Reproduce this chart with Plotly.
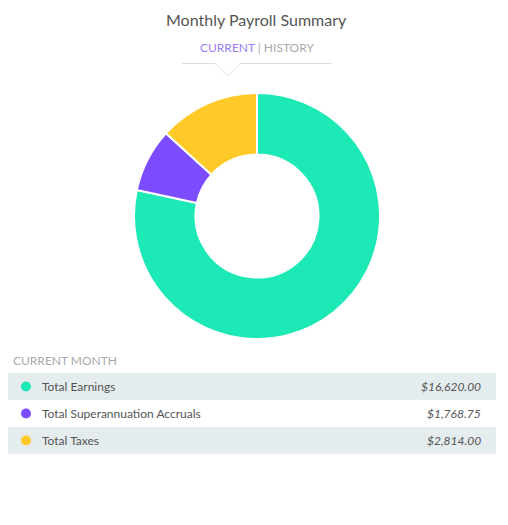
import plotly.graph_objects as go

categories = ["Total Earnings", "Total Superannuation Accruals", "Total Taxes"]
values = [16620.00, 1768.75, 2814.00]
colors = ["#1de9b6", "#7c4dff", "#ffca28"]

W, H = 508, 525
def px(x):
    return x / W
def py(y):
    return 1 - y / H

fig = go.Figure()
fig.add_trace(go.Pie(
    labels=categories, values=values, sort=False, direction="clockwise",
    rotation=0, hole=0.5, textinfo="none", showlegend=False,
    marker=dict(colors=colors, line=dict(color="white", width=2)),
    domain=dict(x=[px(134), px(380)], y=[py(339), py(93)]),
    hoverinfo="label+value",
))

font = "Lato, 'Open Sans', sans-serif"
annotations = []
shapes = []

annotations.append(dict(text="Monthly Payroll Summary", x=px(256), y=py(20), xref="paper", yref="paper",
                        showarrow=False, xanchor="center", yanchor="middle",
                        font=dict(family=font, size=16, color="#555555")))
annotations.append(dict(text="<span style='color:#9c7cf2'>CURRENT</span><span style='color:#aaaaaa'> | HISTORY</span>",
                        x=px(257), y=py(47), xref="paper", yref="paper",
                        showarrow=False, xanchor="center", yanchor="middle",
                        font=dict(family=font, size=12, color="#aaaaaa")))
shapes.append(dict(type="path", xref="paper", yref="paper",
                   path=f"M {px(182)} {py(63.5)} L {px(215)} {py(63.5)} L {px(227.5)} {py(76)} L {px(240)} {py(63.5)} L {px(332)} {py(63.5)}",
                   line=dict(color="#dddddd", width=1)))

annotations.append(dict(text="CURRENT MONTH", x=px(11), y=py(360), xref="paper", yref="paper",
                        showarrow=False, xanchor="left", yanchor="middle",
                        font=dict(family=font, size=12, color="#aaaaaa")))

row_top = 373
row_h = 27
for i, (lab, val, col) in enumerate(zip(categories, values, colors)):
    y0 = row_top + i * row_h
    yc = y0 + row_h / 2
    if i % 2 == 0:
        shapes.append(dict(type="rect", xref="paper", yref="paper",
                           x0=px(8), x1=px(496), y0=py(y0 + row_h), y1=py(y0),
                           fillcolor="#e4ecee", line=dict(width=0), layer="below"))
    shapes.append(dict(type="circle", xref="paper", yref="paper",
                       x0=px(21), x1=px(31), y0=py(yc + 5), y1=py(yc - 5),
                       fillcolor=col, line=dict(width=0)))
    annotations.append(dict(text=lab, x=px(39.5), y=py(yc), xref="paper", yref="paper",
                            showarrow=False, xanchor="left", yanchor="middle",
                            font=dict(family=font, size=12, color="#555555")))
    annotations.append(dict(text=f"<i>${val:,.2f}</i>", x=px(483), y=py(yc), xref="paper", yref="paper",
                            showarrow=False, xanchor="right", yanchor="middle",
                            font=dict(family=font, size=12, color="#555555")))

fig.update_layout(width=W, height=H, margin=dict(l=0, r=0, t=0, b=0),
                  paper_bgcolor="white", plot_bgcolor="white",
                  annotations=annotations, shapes=shapes)
fig.write_html("out.html")
